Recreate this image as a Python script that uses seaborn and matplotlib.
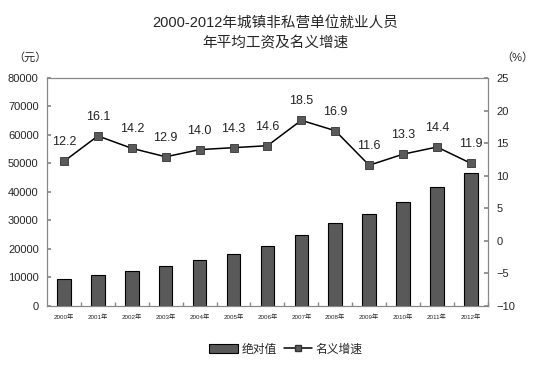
import numpy as np
import pandas as pd
import seaborn as sns
import matplotlib.pyplot as plt
from matplotlib.patches import Patch
from matplotlib.lines import Line2D

years = ['2000年', '2001年', '2002年', '2003年', '2004年', '2005年', '2006年',
         '2007年', '2008年', '2009年', '2010年', '2011年', '2012年']
wage = [9371, 10870, 12422, 14040, 16024, 18364, 21001, 24932, 29229, 32244, 36539, 41799, 46769]
growth = [12.2, 16.1, 14.2, 12.9, 14.0, 14.3, 14.6, 18.5, 16.9, 11.6, 13.3, 14.4, 11.9]

df = pd.DataFrame({'year': years, 'wage': wage, 'growth': growth})

sns.set_theme(style='white')
plt.rcParams['font.family'] = ['Liberation Sans', 'Noto Sans CJK SC', 'DejaVu Sans']

fig = plt.figure(figsize=(5.5, 3.66), dpi=100)
ax = fig.add_axes([0.0855, 0.164, 0.8015, 0.623])

# bars: absolute wage
sns.barplot(data=df, x='year', y='wage', color='#595959', edgecolor='black',
            linewidth=0.8, width=0.4, saturation=1, ax=ax)
ax.set_ylim(0, 80000)
ax.set_yticks(range(0, 80001, 10000))
ax.set_xlabel('')
ax.set_ylabel('')

# line: nominal growth on right axis
ax2 = ax.twinx()
sns.pointplot(data=df, x='year', y='growth', color='black', markers='s',
              linestyles='-', ax=ax2)
for ln in ax2.lines:
    ln.set_markerfacecolor('#5a5a5a')
    ln.set_markeredgecolor('#333333')
    ln.set_markeredgewidth(0.6)
    ln.set_markersize(5.5)
    ln.set_linewidth(1.1)
ax2.set_ylim(-10, 25)
ax2.set_yticks(range(-10, 26, 5))
ax2.set_ylabel('')
ax2.set_xlabel('')
ax.set_xlim(-0.5, len(years) - 0.5)

for i, v in enumerate(growth):
    ax2.text(i, v + 2.0, f'{v:.1f}', ha='center', va='bottom', fontsize=9,
             color='#222222')

for a in (ax, ax2):
    for s in a.spines.values():
        s.set_color('#888888')
        s.set_linewidth(0.8)

ax.tick_params(axis='y', labelsize=8, direction='in', length=3, color='#888888', pad=6)
ax2.tick_params(axis='y', labelsize=8, direction='in', length=3, color='#888888', pad=6)
ax.tick_params(axis='x', labelsize=4.5, length=0, pad=6)
ax.set_xticks(np.arange(len(years)) + 0.5, minor=True)
ax.tick_params(axis='x', which='minor', direction='in', length=3, color='#888888', bottom=True)

fig.text(0.5, 0.935, '2000-2012年城镇非私营单位就业人员', ha='center', va='center', fontsize=10.5)
fig.text(0.5, 0.882, '年平均工资及名义增速', ha='center', va='center', fontsize=10.5)
fig.text(0.055, 0.843, '（元）', ha='center', va='center', fontsize=8)
fig.text(0.94, 0.843, '（%）', ha='center', va='center', fontsize=8)

handles = [Patch(facecolor='#595959', edgecolor='black', linewidth=0.8),
           Line2D([0], [0], color='black', marker='s', markerfacecolor='#5a5a5a',
                  markeredgecolor='#333333', markersize=5, linewidth=1.1)]
fig.legend(handles, ['绝对值', '名义增速'], loc='center', bbox_to_anchor=(0.52, 0.045),
           ncol=2, frameon=False, fontsize=8.5, handlelength=2.4, columnspacing=0.6,
           handletextpad=0.3)

fig.savefig('out.png', dpi=100)
